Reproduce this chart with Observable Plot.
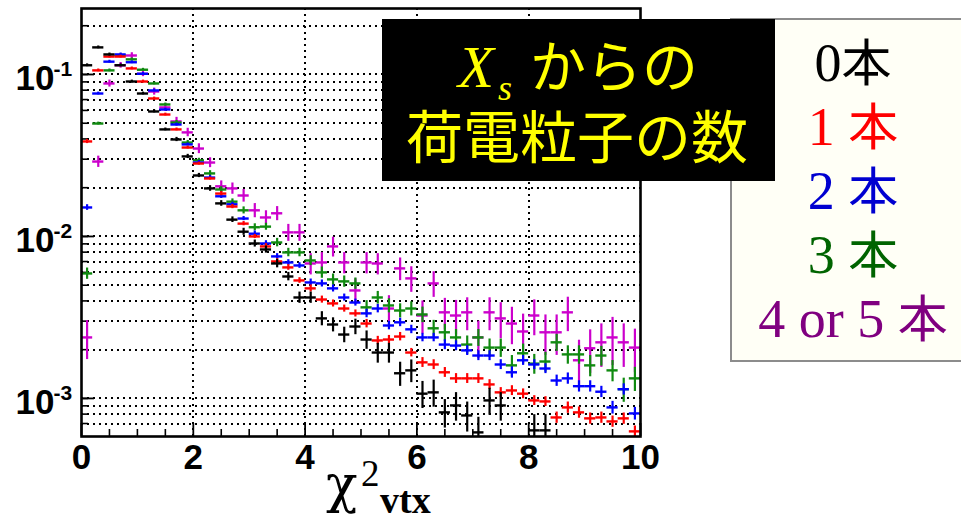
<!DOCTYPE html>
<html>
<head>
<meta charset="utf-8">
<script src="https://cdn.jsdelivr.net/npm/d3@7"></script>
<script src="https://cdn.jsdelivr.net/npm/@observablehq/plot@0.6"></script>
<style>
  body { margin: 0; background: #fff; }
  #wrap { position: relative; width: 961px; height: 522px; overflow: hidden; }
  #wrap svg { position: absolute; left: 0; top: 0; }
</style>
</head>
<body>
<div id="wrap"></div>
<script>
// ---- data: 50 bins of width 0.2 on chi2_vtx in [0,10]
const binWidth = 0.2;
const nBins = 50;

const black = [0.114,0.147,0.133,0.114,0.0905,0.0763,0.0591,0.0458,0.0397,0.0312,
0.0238,0.0198,0.0160,0.0127,0.0107,0.00905,0.00831,0.00681,0.00566,0.00420,
0.00420,0.00312,0.00286,0.00248,0.00278,0.00231,0.00192,0.00192,0.00143,0.00149,
0.00107,0.00109,0.00082,0.000905,0.000785,0.000617,0.000972,0.000905,null,null,
0.000635,0.000635,null,null,null,null,null,null,null,null];
const blackErr = [0.02,0.02,0.02,0.02,0.02,0.02,0.02,0.02,0.03,0.03,
0.03,0.04,0.04,0.04,0.05,0.05,0.05,0.06,0.06,0.08,
0.08,0.1,0.1,0.11,0.11,0.13,0.14,0.14,0.17,0.16,
0.19,0.19,0.2,0.2,0.21,0.24,0.19,0.2,0,0,
0.25,0.25,0,0,0,0,0,0,0,0];

const red = [0.0386,0.106,0.129,0.129,0.109,0.0905,0.0711,0.0566,0.0458,0.0354,
0.0282,0.0228,0.0184,0.0153,0.0120,0.0100,0.00868,0.00701,0.00644,0.00535,
0.00478,0.00408,0.00386,0.00359,0.00335,0.00290,0.00228,0.00231,0.00241,0.00192,
0.00167,0.00162,0.00145,0.00133,0.00133,0.00133,0.00122,0.00109,0.00112,0.00107,
0.000972,0.000958,0.000763,0.000880,0.000820,0.000753,0.000763,0.000721,0.000753,0.000626];
const redErr = [0.03,0.02,0.02,0.02,0.02,0.02,0.02,0.02,0.02,0.02,
0.02,0.02,0.03,0.03,0.03,0.03,0.04,0.04,0.04,0.04,
0.05,0.05,0.05,0.05,0.05,0.06,0.06,0.06,0.06,0.06,
0.07,0.07,0.07,0.07,0.07,0.07,0.07,0.07,0.07,0.07,
0.07,0.07,0.08,0.08,0.08,0.08,0.08,0.08,0.08,0.08];

const blue = [0.0151,0.0763,0.120,0.133,0.119,0.101,0.0797,0.0608,0.0491,0.0370,
0.0286,0.0231,0.0177,0.0158,0.0129,0.0104,0.00905,0.00753,0.00691,0.00662,
0.00520,0.00513,0.00478,0.00420,0.00391,0.00335,0.00359,0.00282,0.00295,0.00267,
0.00238,0.00238,0.00215,0.00212,0.00198,0.00184,0.00184,0.00162,0.00145,0.00172,
0.00162,0.00153,0.00129,0.00133,0.00119,0.00119,0.00110,0.000880,0.00114,0.000808];
const blueErr = [0.04,0.02,0.02,0.02,0.02,0.02,0.02,0.02,0.02,0.02,
0.03,0.03,0.03,0.03,0.03,0.04,0.04,0.04,0.04,0.04,
0.05,0.05,0.05,0.05,0.05,0.06,0.06,0.06,0.06,0.06,
0.06,0.06,0.07,0.07,0.07,0.07,0.07,0.07,0.08,0.07,
0.07,0.07,0.08,0.08,0.08,0.08,0.08,0.09,0.08,0.09];

const green = [0.00591,0.0498,0.106,0.131,0.124,0.107,0.0880,0.0653,0.0505,0.0380,
0.0295,0.0245,0.0195,0.0164,0.0145,0.0114,0.0115,0.00918,0.00797,0.00797,
0.00711,0.00600,0.00543,0.00528,0.00513,0.00365,0.00420,0.00375,0.00349,0.00359,
0.00330,0.00271,0.00256,0.00238,0.00215,0.00238,0.00206,0.00206,0.00160,0.00190,
0.00164,0.00169,0.00222,0.00187,0.00187,0.00160,0.00184,0.00149,0.00114,0.00133];
const greenErr = [0.08,0.02,0.02,0.02,0.02,0.02,0.02,0.02,0.03,0.03,
0.03,0.04,0.04,0.04,0.05,0.05,0.05,0.06,0.06,0.06,
0.07,0.08,0.08,0.08,0.08,0.1,0.09,0.1,0.1,0.1,
0.11,0.12,0.12,0.12,0.13,0.12,0.13,0.13,0.15,0.14,
0.14,0.14,0.12,0.13,0.13,0.15,0.14,0.15,0.17,0.17];

const magenta = [0.00238,0.0290,0.0880,0.114,0.131,0.101,0.0785,0.0626,0.0513,0.0439,
0.0349,0.0286,0.0204,0.0198,0.0179,0.0145,0.0131,0.0139,0.0106,0.0106,
0.00681,0.00691,0.00868,0.00691,0.00464,0.00691,0.00681,0.00359,0.00635,0.00551,
0.00325,0.00513,0.00340,0.00325,0.00340,0.00238,0.00340,0.00312,0.00290,0.00259,
0.00325,0.00256,0.00256,0.00340,0.00172,0.00204,0.00222,0.00238,0.00222,0.00206];
const magentaErr = [0.27,0.08,0.05,0.04,0.04,0.04,0.05,0.05,0.06,0.06,
0.07,0.07,0.08,0.08,0.09,0.1,0.1,0.1,0.12,0.12,
0.15,0.15,0.14,0.15,0.18,0.15,0.15,0.2,0.16,0.18,
0.23,0.18,0.22,0.24,0.23,0.26,0.23,0.25,0.26,0.28,
0.25,0.28,0.28,0.24,0.33,0.3,0.3,0.33,0.3,0.3];

// tick values
const xTickLabels = [0, 2, 4, 6, 8, 10];
const xGridValues = [2, 4, 6, 8];
const xMinorTicks = [0.5,1,1.5,2.5,3,3.5,4.5,5,5.5,6.5,7,7.5,8.5,9,9.5];
const yMajorTicks = [0.1, 0.01, 0.001];
const yTickExponents = ["-1", "-2", "-3"];
const yGridValues = [0.0007,0.0008,0.0009,0.001,0.002,0.003,0.004,0.005,0.006,0.007,0.008,0.009,
  0.01,0.02,0.03,0.04,0.05,0.06,0.07,0.08,0.09,0.1,0.2];

// legend
const legendNums = ["0", "1 ", "2 ", "3 ", "4 or 5 "];
const legendColors = ["#000000", "#ff0000", "#0000d0", "#006400", "#800080"];
const seriesColors = ["#000000", "#ff0000", "#0000ff", "#108a10", "#cc00cc"];

// build point tables
const seriesVals = [black, red, blue, green, magenta];
const seriesErrs = [blackErr, redErr, blueErr, greenErr, magentaErr];
const tables = seriesVals.map((vals, s) =>
  vals.map((v, i) => ({
    x0: i * binWidth, x1: (i + 1) * binWidth, x: (i + 0.5) * binWidth,
    v, lo: v * (1 - seriesErrs[s][i]), hi: v * (1 + seriesErrs[s][i])
  })).filter(d => d.v != null)
);

const frameW = 961 - 81 - 321;
const frameH = 522 - 8 - 86;
const dotted = {stroke: "#000", strokeWidth: 2, strokeDasharray: "2,4", shapeRendering: "crispEdges"};

const dataMarks = [];
for (const s of [4, 3, 2, 1, 0]) {
  dataMarks.push(Plot.ruleX(tables[s], {x: "x", y1: "lo", y2: "hi", stroke: seriesColors[s], strokeWidth: 2.2, clip: true}));
  dataMarks.push(Plot.ruleY(tables[s], {y: "v", x1: "x0", x2: "x1", stroke: seriesColors[s], strokeWidth: 2.4, clip: true}));
}

const plot = Plot.plot({
  width: 961, height: 522,
  marginLeft: 81, marginRight: 321, marginTop: 8, marginBottom: 86,
  x: {domain: [0, 10], axis: null},
  y: {type: "log", domain: [0.000582, 0.2555], axis: null},
  style: {background: "transparent", fontFamily: "'Liberation Sans', Arial, sans-serif", overflow: "visible"},
  marks: [
    Plot.ruleY(yGridValues, dotted),
    Plot.ruleX(xGridValues, dotted),
    Plot.ruleY(yGridValues, {stroke: "#000", strokeWidth: 1.6, insetRight: frameW - 7}),
    Plot.ruleY(yMajorTicks, {stroke: "#000", strokeWidth: 1.8, insetRight: frameW - 13}),
    Plot.ruleX(xMinorTicks, {stroke: "#000", strokeWidth: 1.6, insetTop: frameH - 7}),
    Plot.ruleX(xTickLabels, {stroke: "#000", strokeWidth: 1.8, insetTop: frameH - 13}),
    ...dataMarks,
    Plot.frame({stroke: "#000", strokeWidth: 2.6}),
    Plot.text(xTickLabels, {x: d => d, frameAnchor: "bottom", dy: 32, text: d => String(d),
      fontSize: 35, fontWeight: "bold", fill: "#000"}),
    Plot.text(yMajorTicks, {y: d => d, frameAnchor: "left", dx: -27, dy: 4.5, textAnchor: "end",
      text: () => "10", fontSize: 35, fontWeight: "bold", fill: "#000"}),
    Plot.text(yMajorTicks, {y: d => d, frameAnchor: "left", dx: -28, dy: -5, textAnchor: "start",
      text: (d, i) => yTickExponents[i], fontSize: 21, fontWeight: "bold", fill: "#000"})
  ]
});
document.getElementById("wrap").appendChild(plot);

// overlay: axis title, legend box, title box
const ov = d3.create("svg").attr("width", 961).attr("height", 522).style("pointer-events", "none");
const serif = "'Liberation Serif', 'Times New Roman', serif";
const cjk = "'Noto Sans CJK JP', sans-serif";

ov.append("text").attr("x", 326).attr("y", 502).attr("font-family", "'DejaVu Serif', serif").attr("font-size", 52).text("χ");
ov.append("text").attr("x", 361).attr("y", 486).attr("font-family", serif).attr("font-size", 37).text("2");
ov.append("text").attr("x", 380).attr("y", 513).attr("font-family", serif).attr("font-size", 38).attr("font-weight", "bold").text("vtx");

// legend
ov.append("rect").attr("x", 731).attr("y", 19).attr("width", 260).attr("height", 342)
  .attr("fill", "#fffff6").attr("stroke", "#8c8c8c").attr("stroke-width", 2);
legendNums.forEach((n, i) => {
  const t = ov.append("text").attr("x", 853).attr("y", 81 + i * 64).attr("text-anchor", "middle").attr("fill", legendColors[i]);
  t.append("tspan").attr("font-family", serif).attr("font-size", 54).text(n);
  t.append("tspan").attr("font-family", cjk).attr("font-size", 50).text("本");
});

// title box
ov.append("rect").attr("x", 382).attr("y", 19).attr("width", 393).attr("height", 162).attr("fill", "#000");
ov.append("text").attr("x", 458).attr("y", 87).attr("fill", "#ffff00")
  .attr("font-family", serif).attr("font-style", "italic").attr("font-size", 59).text("X");
ov.append("text").attr("x", 498).attr("y", 100).attr("fill", "#ffff00")
  .attr("font-family", serif).attr("font-style", "italic").attr("font-size", 36).text("s");
ov.append("text").attr("x", 530).attr("y", 87).attr("fill", "#ffff00")
  .attr("font-family", cjk).attr("font-size", 56).text("からの");
ov.append("text").attr("x", 577).attr("y", 158).attr("text-anchor", "middle").attr("fill", "#ffff00")
  .attr("font-family", cjk).attr("font-size", 57).text("荷電粒子の数");

document.getElementById("wrap").appendChild(ov.node());
</script>
</body>
</html>
